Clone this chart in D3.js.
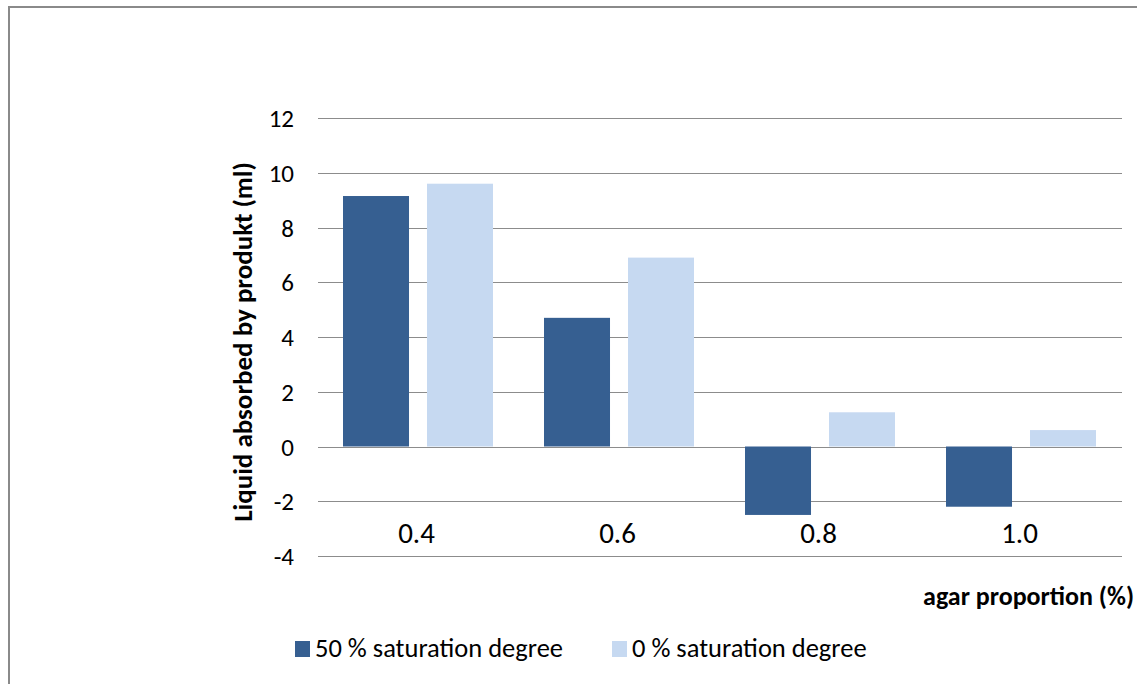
<!DOCTYPE html>
<html>
<head>
<meta charset="utf-8">
<script src="https://cdn.jsdelivr.net/npm/d3@7"></script>
<style>
  body { margin: 0; background: #fff; }
  text { font-family: Carlito, "Liberation Sans", "Open Sans", sans-serif; }
</style>
</head>
<body>
<div id="chart"></div>
<script>
// agar proportion categories and measured liquid absorption (ml)
const categories = ["0.4", "0.6", "0.8", "1.0"];
const seriesNames = ["50 % saturation degree", "0 % saturation degree"];
const saturation50 = [9.15, 4.7, -2.5, -2.2];
const saturation0 = [9.6, 6.9, 1.25, 0.6];
const yTicks = [-4, -2, 0, 2, 4, 6, 8, 10, 12];
const colors = ["#365f91", "#c6d9f1"];

const width = 1137, height = 684;

const svg = d3.select("#chart")
    .append("svg")
    .attr("width", width)
    .attr("height", height);

// Rahmen
svg.append("rect")
    .attr("x", 9)
    .attr("y", 7)
    .attr("width", 1160)
    .attr("height", 700)
    .attr("fill", "none")
    .attr("stroke", "#8a8a8a")
    .attr("stroke-width", 2);

const plot = { left: 318, right: 1122, top: 118, bottom: 556 };

const y = d3.scaleLinear()
    .domain([-4, 12])
    .range([plot.bottom, plot.top]);

const x0 = d3.scaleBand()
    .domain(categories)
    .range([plot.left, plot.right]);

const x1 = d3.scaleBand()
    .domain([0, 1])
    .range([25, x0.bandwidth() - 26])
    .paddingInner(0.214);

// Gitterlinien
svg.append("g")
    .selectAll("line")
    .data(yTicks)
    .enter()
    .append("line")
    .attr("x1", plot.left)
    .attr("x2", plot.right)
    .attr("y1", d => Math.round(y(d)) + 0.5)
    .attr("y2", d => Math.round(y(d)) + 0.5)
    .attr("stroke", "#8c8c8c")
    .attr("stroke-width", 1);

// Y-Achse Beschriftungen
svg.append("g")
    .selectAll("text")
    .data(yTicks)
    .enter()
    .append("text")
    .attr("x", 294)
    .attr("y", d => y(d) + 9)
    .attr("text-anchor", "end")
    .attr("font-size", "25px")
    .attr("fill", "#000")
    .text(d => d);

// Balken
const series = [saturation50, saturation0];
series.forEach((values, s) => {
    svg.append("g")
        .selectAll("rect")
        .data(values)
        .enter()
        .append("rect")
        .attr("x", (d, i) => x0(categories[i]) + x1(s))
        .attr("width", x1.bandwidth())
        .attr("y", d => y(Math.max(0, d)))
        .attr("height", d => Math.abs(y(d) - y(0)))
        .attr("fill", colors[s]);
});

// Kategorien
svg.append("g")
    .selectAll("text")
    .data(categories)
    .enter()
    .append("text")
    .attr("x", d => x0(d) + x0.bandwidth() / 2 - 2)
    .attr("y", 543)
    .attr("text-anchor", "middle")
    .attr("font-size", "29px")
    .attr("fill", "#000")
    .text(d => d);

// Achsentitel
svg.append("text")
    .attr("transform", `translate(252, 342) rotate(-90)`)
    .attr("text-anchor", "middle")
    .attr("font-size", "27px")
    .attr("font-weight", "bold")
    .text("Liquid absorbed by produkt (ml)");

svg.append("text")
    .attr("x", 1134)
    .attr("y", 605)
    .attr("text-anchor", "end")
    .attr("font-size", "26px")
    .attr("font-weight", "bold")
    .text("agar proportion (%)");

// Legende
const legendX = [295, 612];
seriesNames.forEach((name, s) => {
    svg.append("rect")
        .attr("x", legendX[s])
        .attr("y", 641)
        .attr("width", 15)
        .attr("height", 16)
        .attr("fill", colors[s]);
    svg.append("text")
        .attr("x", legendX[s] + 20)
        .attr("y", 657)
        .attr("font-size", "26.5px")
        .text(name);
});
</script>
</body>
</html>
